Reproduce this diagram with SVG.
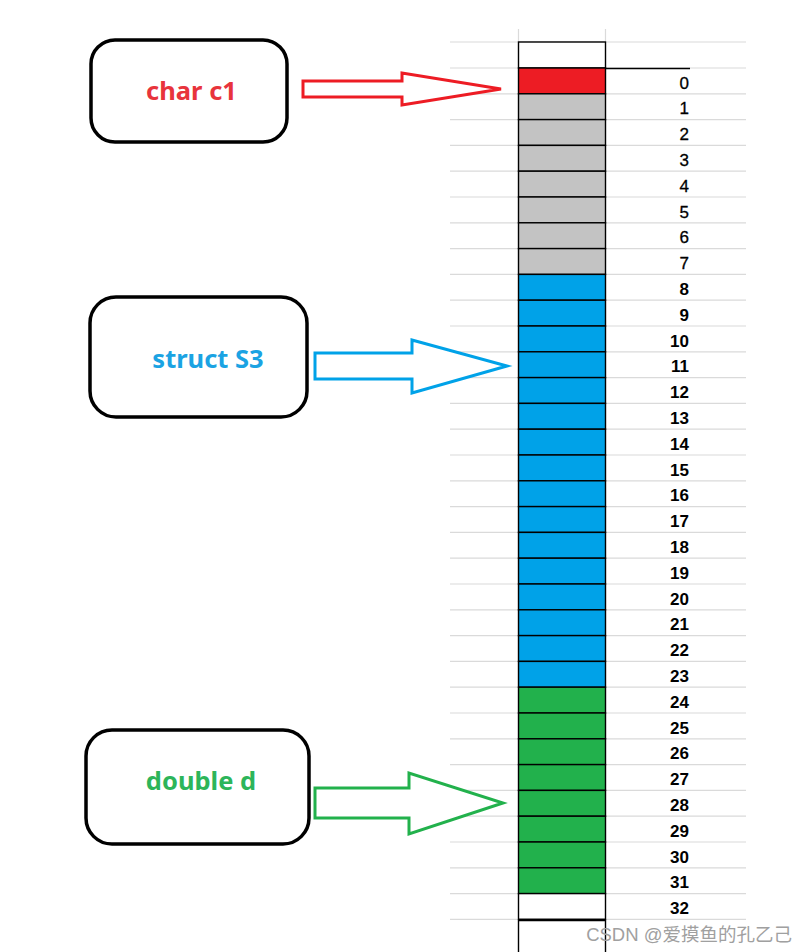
<svg xmlns="http://www.w3.org/2000/svg" width="808" height="952" viewBox="0 0 808 952">
<style>
.grid{stroke:#dadada;stroke-width:1.2;fill:none}
.cell{stroke:#000;stroke-width:1.4}
.red{fill:#ed1c24}.gray{fill:#c3c3c3}.blue{fill:#00a2e8}.green{fill:#22b14c}.white{fill:#fff}
.num{font-family:"Liberation Sans",Arial,sans-serif;font-size:17px;fill:#000;text-anchor:end}
.n{stroke:#000;stroke-width:0.3}
.b{font-weight:bold}
.box{fill:#fff;stroke:#000;stroke-width:3.5}
.lbl{font-family:"Noto Sans","Open Sans",sans-serif;font-weight:bold;font-size:25.5px;text-anchor:middle}
.arr{fill:#fff;stroke-width:3;stroke-linejoin:miter}
</style>
<rect width="808" height="952" fill="#fff"/>
<g id="grid-lines" class="grid">
<path d="M518.5 29V42M605.5 29V42"/>
<path d="M450 42H746M450 68H746M450 93.8H746M450 119.6H746M450 145.4H746M450 171.2H746M450 197H746M450 222.8H746M450 248.6H746M450 274.4H746M450 300.2H746M450 326H746M450 351.8H746M450 377.6H746M450 403.4H746M450 429.2H746M450 455H746M450 480.8H746M450 506.6H746M450 532.4H746M450 558.2H746M450 584H746M450 609.8H746M450 635.6H746M450 661.4H746M450 687.2H746M450 713H746M450 738.8H746M450 764.6H746M450 790.4H746M450 816.2H746M450 842H746M450 867.8H746M450 893.6H746M450 919.4H746"/>
</g>
<g id="memory">
<rect class="cell white" x="518.5" y="42" width="87" height="26"/>
<rect class="cell red" x="518.5" y="68" width="87" height="25.8"/>
<rect class="cell gray" x="518.5" y="93.8" width="87" height="25.8"/>
<rect class="cell gray" x="518.5" y="119.6" width="87" height="25.8"/>
<rect class="cell gray" x="518.5" y="145.4" width="87" height="25.8"/>
<rect class="cell gray" x="518.5" y="171.2" width="87" height="25.8"/>
<rect class="cell gray" x="518.5" y="197" width="87" height="25.8"/>
<rect class="cell gray" x="518.5" y="222.8" width="87" height="25.8"/>
<rect class="cell gray" x="518.5" y="248.6" width="87" height="25.8"/>
<rect class="cell blue" x="518.5" y="274.4" width="87" height="25.8"/>
<rect class="cell blue" x="518.5" y="300.2" width="87" height="25.8"/>
<rect class="cell blue" x="518.5" y="326" width="87" height="25.8"/>
<rect class="cell blue" x="518.5" y="351.8" width="87" height="25.8"/>
<rect class="cell blue" x="518.5" y="377.6" width="87" height="25.8"/>
<rect class="cell blue" x="518.5" y="403.4" width="87" height="25.8"/>
<rect class="cell blue" x="518.5" y="429.2" width="87" height="25.8"/>
<rect class="cell blue" x="518.5" y="455" width="87" height="25.8"/>
<rect class="cell blue" x="518.5" y="480.8" width="87" height="25.8"/>
<rect class="cell blue" x="518.5" y="506.6" width="87" height="25.8"/>
<rect class="cell blue" x="518.5" y="532.4" width="87" height="25.8"/>
<rect class="cell blue" x="518.5" y="558.2" width="87" height="25.8"/>
<rect class="cell blue" x="518.5" y="584" width="87" height="25.8"/>
<rect class="cell blue" x="518.5" y="609.8" width="87" height="25.8"/>
<rect class="cell blue" x="518.5" y="635.6" width="87" height="25.8"/>
<rect class="cell blue" x="518.5" y="661.4" width="87" height="25.8"/>
<rect class="cell green" x="518.5" y="687.2" width="87" height="25.8"/>
<rect class="cell green" x="518.5" y="713" width="87" height="25.8"/>
<rect class="cell green" x="518.5" y="738.8" width="87" height="25.8"/>
<rect class="cell green" x="518.5" y="764.6" width="87" height="25.8"/>
<rect class="cell green" x="518.5" y="790.4" width="87" height="25.8"/>
<rect class="cell green" x="518.5" y="816.2" width="87" height="25.8"/>
<rect class="cell green" x="518.5" y="842" width="87" height="25.8"/>
<rect class="cell green" x="518.5" y="867.8" width="87" height="25.8"/>
<rect class="cell white" x="518.5" y="893.6" width="87" height="25.8"/>
<path d="M518.5 919.4V953M605.5 919.4V953" stroke="#000" stroke-width="1.4"/>
<path d="M518 920H606" stroke="#000" stroke-width="2.5"/>
<path d="M605.5 68.5H690" stroke="#000" stroke-width="1.4"/>
</g>
<g id="offsets" class="num">
<g class="n">
<text x="689" y="88.5">0</text>
<text x="689" y="114.3">1</text>
<text x="689" y="140.1">2</text>
<text x="689" y="165.9">3</text>
<text x="689" y="191.7">4</text>
<text x="689" y="217.5">5</text>
<text x="689" y="243.3">6</text>
<text x="689" y="269.1">7</text>
</g>
<g class="b">
<text x="689" y="294.9">8</text>
<text x="689" y="320.7">9</text>
<text x="689" y="346.5">10</text>
<text x="689" y="372.3">11</text>
<text x="689" y="398.1">12</text>
<text x="689" y="423.9">13</text>
<text x="689" y="449.7">14</text>
<text x="689" y="475.5">15</text>
<text x="689" y="501.3">16</text>
<text x="689" y="527.1">17</text>
<text x="689" y="552.9">18</text>
<text x="689" y="578.7">19</text>
<text x="689" y="604.5">20</text>
<text x="689" y="630.3">21</text>
<text x="689" y="656.1">22</text>
<text x="689" y="681.9">23</text>
<text x="689" y="707.7">24</text>
<text x="689" y="733.5">25</text>
<text x="689" y="759.3">26</text>
<text x="689" y="785.1">27</text>
<text x="689" y="810.9">28</text>
<text x="689" y="836.7">29</text>
<text x="689" y="862.5">30</text>
<text x="689" y="888.3">31</text>
<text x="689" y="914.1">32</text>
</g>
</g>
<g id="node-char-c1">
<rect class="box" x="91" y="40" width="196" height="102" rx="24"/>
<text class="lbl" x="191.5" y="100" fill="#e8343c">char c1</text>
</g>
<g id="node-struct-s3">
<rect class="box" x="90" y="297" width="217" height="120" rx="26"/>
<text class="lbl" x="208" y="368" fill="#1ba3e3">struct S3</text>
</g>
<g id="node-double-d">
<rect class="box" x="86" y="730" width="223" height="114" rx="26"/>
<text class="lbl" x="201" y="790" fill="#2db55a">double d</text>
</g>
<g id="connectors">
<polygon class="arr" stroke="#ed1c24" points="303,81 402,81 402,73 501,89 402,105 402,97 303,97"/>
<polygon class="arr" stroke="#00a2e8" points="315,353 412,353 412,340 507,366 412,393 412,379 315,379"/>
<polygon class="arr" stroke="#22b14c" points="315,788 409,788 409,773 503,803 409,834 409,818 315,818"/>
</g>
<text x="792" y="941" text-anchor="end" font-family="'Liberation Sans','Noto Sans CJK SC',sans-serif" font-size="18.5" fill="#a0a0a0">CSDN @爱摸鱼的孔乙己</text>
</svg>
